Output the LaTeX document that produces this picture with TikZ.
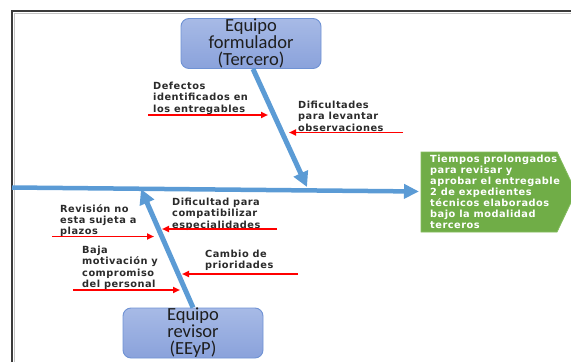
\documentclass[tikz,border=0pt]{standalone}
\usepackage{fontspec}
\setmainfont{DejaVu Sans}
\newfontfamily\calib{Carlito}
\newfontfamily\labfam{DejaVu Sans}[LetterSpace=5]
\usetikzlibrary{arrows.meta}
\definecolor{bone}{HTML}{5B9BD5}
\definecolor{boxtop}{HTML}{A7BAE6}
\definecolor{boxbot}{HTML}{8AA2DB}
\definecolor{boxline}{HTML}{6F92D4}
\definecolor{boxtext}{HTML}{1E1E1E}
\definecolor{labtext}{HTML}{2B2B2B}
\definecolor{effgreen}{HTML}{70AD47}
\definecolor{effline}{HTML}{84BC5E}
\definecolor{framecol}{HTML}{3A3A3A}
\definecolor{frameshade}{HTML}{C4C4C4}
\newcommand{\labf}{\labfam\fontsize{9.8}{11.3}\selectfont\bfseries}
\newcommand{\efff}{\labfam\fontsize{9.8}{11}\selectfont\bfseries}
\newcommand{\teamf}{\calib\fontsize{18.5}{17}\selectfont}
\tikzset{
  teambox/.style={draw=boxline, line width=0.9pt, rounded corners=8pt, top color=boxtop, bottom color=boxbot, inner sep=0pt, align=center, text=boxtext, font=\teamf, minimum width=140pt, minimum height=50pt},
  bonearr/.style={draw=bone, line width=5pt, -{Triangle[length=15pt,width=15pt]}},
  spine/.style={draw=bone, line width=4.5pt, -{Triangle[length=15pt,width=14pt]}},
  cause/.style={draw=red, line width=1.8pt, -{Triangle[length=7pt,width=6pt]}},
  lab/.style={font=\labf, text=labtext, align=left, inner sep=0pt, anchor=north west},
  efftext/.style={font=\efff, text=white, align=left, inner sep=0pt, anchor=north west},
  effshape/.style={draw=effline, fill=effgreen, line width=0.8pt},
  framedark/.style={draw=framecol, line width=1.4pt},
  framelight/.style={draw=frameshade, line width=1pt}
}
\begin{document}
\begin{tikzpicture}[x=1pt,y=-1pt]
\useasboundingbox (0,0) rectangle (571,362);
% frame
\draw[framelight] (14,362) -- (14,13) -- (571,13);
\draw[framedark] (12,362) -- (12,11) -- (571,11);

% effect (green pentagon)
\draw[effshape] (421,152) -- (557,152) -- (576,192) -- (557,232) -- (421,232) -- cycle;
\node[efftext] (eff) at (430,154.5) {Tiempos prolongados\\para revisar y\\aprobar el entregable\\2 de expedientes\\técnicos elaborados\\bajo la modalidad\\terceros};

% team boxes
\node[teambox] (fb) at (251,43.5) {Equipo\\formulador\\(Tercero)};
\node[teambox] (rb) at (193,333) {Equipo\\revisor\\(EEyP)};

% spine and bones
\coordinate (spL) at (12,187.5);
\coordinate (spR) at (419,191.5);
\draw[spine] (spL) -- (spR);
\coordinate (tt) at (307,187);
\draw[bonearr] ([xshift=2pt]fb.south) -- (tt);
\coordinate (bt) at (141,189);
\draw[bonearr] (rb.north) -- (bt);

% causes
\node[lab] (c1) at (153,82) {Defectos\\identificados en\\los entregables};
\coordinate (c1s) at (148,115);
\coordinate (c1e) at (268,115);
\draw[cause] (c1s) -- (c1e);

\node[lab] (c2) at (298,101) {Dificultades\\para levantar\\observaciones};
\coordinate (c2s) at (403,132.5);
\coordinate (c2e) at (289,132.5);
\draw[cause] (c2s) -- (c2e);

\node[lab] (c3) at (60,204) {Revisión no\\esta sujeta a\\plazos};
\coordinate (c3s) at (52,236.5);
\coordinate (c3e) at (154,236.5);
\draw[cause] (c3s) -- (c3e);

\node[lab] (c4) at (172,198) {Dificultad para\\compatibilizar\\especialidades};
\coordinate (c4s) at (277,229);
\coordinate (c4e) at (162,229);
\draw[cause] (c4s) -- (c4e);

\node[lab] (c5) at (82,246) {Baja\\motivación y\\compromiso\\del personal};
\coordinate (c5s) at (73,290);
\coordinate (c5e) at (180,290);
\draw[cause] (c5s) -- (c5e);

\node[lab] (c6) at (205,250) {Cambio de\\prioridades};
\coordinate (c6s) at (298,274);
\coordinate (c6e) at (182,274);
\draw[cause] (c6s) -- (c6e);
\end{tikzpicture}
\end{document}
